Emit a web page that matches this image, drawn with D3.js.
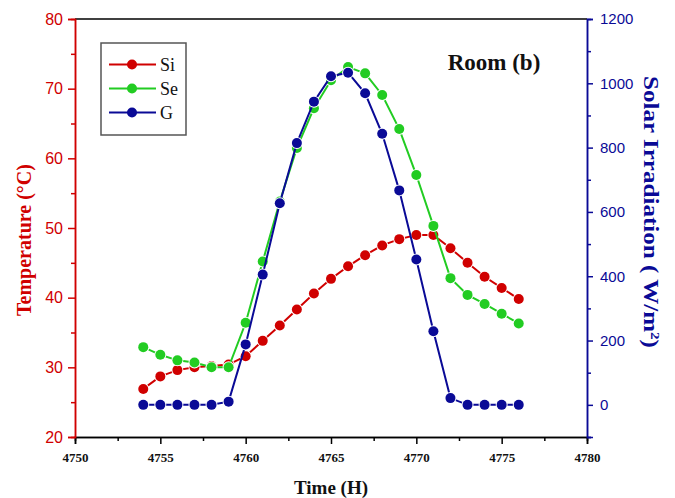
<!DOCTYPE html>
<html>
<head>
<meta charset="utf-8">
<script src="https://cdn.jsdelivr.net/npm/d3@7"></script>
<style>
  html, body { margin: 0; padding: 0; background: #fff; }
  svg { display: block; }
</style>
</head>
<body>
<svg id="chart" width="675" height="498"></svg>
<script>
// Hourly readings, 4754 h to 4776 h
const hours = d3.range(4754, 4777);
const siTemp = [26.9, 28.7, 29.6, 30.0, 30.2, 30.4, 31.6, 33.8, 36.0, 38.3, 40.6, 42.7, 44.5, 46.1, 47.5, 48.4, 49.0, 49.0, 47.1, 45.0, 43.0, 41.4, 39.8];
const seTemp = [32.9, 31.8, 31.0, 30.7, 30.0, 30.0, 36.4, 45.2, 53.8, 61.5, 67.2, 71.2, 73.1, 72.2, 69.1, 64.2, 57.6, 50.3, 42.8, 40.4, 39.1, 37.7, 36.3];
const irradiance = [0, 0, 0, 0, 0, 10, 188, 405, 627, 814, 943, 1022, 1033, 969, 843, 667, 452, 229, 21, 0, 0, 0, 0];

const xTicks = [4750, 4755, 4760, 4765, 4770, 4775, 4780];
const tempTicks = [20, 30, 40, 50, 60, 70, 80];
const irrTicks = [0, 200, 400, 600, 800, 1000, 1200];

const RED = "#d00000", GREEN = "#22cc22", BLUE = "#0a0a96";

const svg = d3.select("#chart");
const plotL = 75, plotR = 587, plotT = 19, plotB = 437;

const x = d3.scaleLinear().domain([4750, 4780]).range([plotL, plotR]);
const yT = d3.scaleLinear().domain([20, 80]).range([plotB, plotT]);
const yG = d3.scaleLinear().domain([-100, 1200]).range([plotB, plotT]);

const serif = "'Liberation Serif', 'Times New Roman', serif";
const sans = "'Liberation Sans', Arial, sans-serif";
const plain = d3.format("d");

// frame: top edge
svg.append("line").attr("x1", plotL).attr("x2", plotR).attr("y1", plotT).attr("y2", plotT)
  .attr("stroke", "#000").attr("stroke-width", 1.5);

// style helper for an axis group
function paint(g, color) {
  g.selectAll("line").attr("stroke", color).attr("stroke-width", 1.5);
  g.select(".domain").attr("stroke", color).attr("stroke-width", 1.5);
}

// bottom axis: minor ticks, then major ticks with labels
const gxMinor = svg.append("g").attr("transform", `translate(0,${plotB})`)
  .call(d3.axisBottom(x).tickValues([4752.5, 4757.5, 4762.5, 4767.5, 4772.5, 4777.5]).tickSize(4).tickFormat(""));
paint(gxMinor, "#000");
const gx = svg.append("g").attr("transform", `translate(0,${plotB})`)
  .call(d3.axisBottom(x).tickValues(xTicks).tickSize(7).tickPadding(9).tickFormat(plain));
paint(gx, "#000");
gx.selectAll("text").attr("fill", "#111").attr("font-family", serif)
  .attr("font-weight", "bold").attr("font-size", 13);

// left temperature axis
const glMinor = svg.append("g").attr("transform", `translate(${plotL},0)`)
  .call(d3.axisLeft(yT).tickValues([25, 35, 45, 55, 65, 75]).tickSize(4).tickFormat(""));
paint(glMinor, RED);
const gl = svg.append("g").attr("transform", `translate(${plotL},0)`)
  .call(d3.axisLeft(yT).tickValues(tempTicks).tickSize(7).tickPadding(5).tickFormat(plain));
paint(gl, RED);
gl.selectAll("text").attr("fill", RED).attr("font-family", sans).attr("font-size", 16);

// right irradiance axis
const grMinor = svg.append("g").attr("transform", `translate(${plotR},0)`)
  .call(d3.axisRight(yG).tickValues([-100, 100, 300, 500, 700, 900, 1100]).tickSize(4).tickFormat(""));
paint(grMinor, BLUE);
const gr = svg.append("g").attr("transform", `translate(${plotR},0)`)
  .call(d3.axisRight(yG).tickValues(irrTicks).tickSize(6).tickPadding(7).tickFormat(plain));
paint(gr, BLUE);
gr.selectAll("text").attr("fill", BLUE).attr("font-family", sans).attr("font-size", 15);

// axis titles
svg.append("text")
  .attr("transform", `translate(31,240) rotate(-90)`)
  .attr("text-anchor", "middle")
  .attr("font-family", serif).attr("font-weight", "bold").attr("font-size", 20)
  .attr("fill", RED).text("Temperature (°C)");

const rt = svg.append("text")
  .attr("transform", `translate(644,212) rotate(90)`)
  .attr("text-anchor", "middle")
  .attr("font-family", serif).attr("font-weight", "bold").attr("font-size", 20)
  .attr("textLength", 272).attr("lengthAdjust", "spacingAndGlyphs")
  .attr("fill", BLUE);
rt.append("tspan").text("Solar Irradiation ( W/m");
rt.append("tspan").attr("font-size", 12).attr("dy", -7).text("2");
rt.append("tspan").attr("dy", 7).text(")");

svg.append("text")
  .attr("x", 331).attr("y", 494)
  .attr("text-anchor", "middle")
  .attr("font-family", serif).attr("font-weight", "bold").attr("font-size", 19)
  .attr("fill", "#111").text("Time (H)");

svg.append("text")
  .attr("x", 494).attr("y", 70)
  .attr("text-anchor", "middle")
  .attr("font-family", serif).attr("font-weight", "bold").attr("font-size", 23)
  .attr("fill", "#111").text("Room (b)");

// series: line, then markers with a white rim that opens a gap in the line
const series = [
  { name: "Si", color: RED, values: siTemp, y: yT },
  { name: "Se", color: GREEN, values: seTemp, y: yT },
  { name: "G", color: BLUE, values: irradiance, y: yG }
];

series.forEach(s => {
  const pts = hours.map((h, i) => [h, s.values[i]]);
  svg.append("path")
    .datum(pts)
    .attr("fill", "none").attr("stroke", s.color).attr("stroke-width", 2)
    .attr("d", d3.line().x(d => x(d[0])).y(d => s.y(d[1])));
  svg.append("g").selectAll("circle").data(pts).join("circle")
    .attr("cx", d => x(d[0])).attr("cy", d => s.y(d[1])).attr("r", 5)
    .attr("fill", s.color).attr("stroke", "#fff").attr("stroke-width", 2)
    .attr("paint-order", "stroke");
});

// legend
const lg = svg.append("g");
lg.append("rect").attr("x", 101).attr("y", 43).attr("width", 85).attr("height", 92)
  .attr("fill", "#fff").attr("stroke", "#555").attr("stroke-width", 1.5);
series.forEach((s, i) => {
  const yy = 64.5 + i * 24;
  lg.append("line").attr("x1", 109).attr("x2", 156).attr("y1", yy).attr("y2", yy)
    .attr("stroke", s.color).attr("stroke-width", 2);
  lg.append("circle").attr("cx", 132).attr("cy", yy).attr("r", 5).attr("fill", s.color);
  lg.append("text").attr("x", 160).attr("y", yy + 6)
    .attr("font-family", serif).attr("font-size", 18).attr("fill", "#111").text(s.name);
});
</script>
</body>
</html>
